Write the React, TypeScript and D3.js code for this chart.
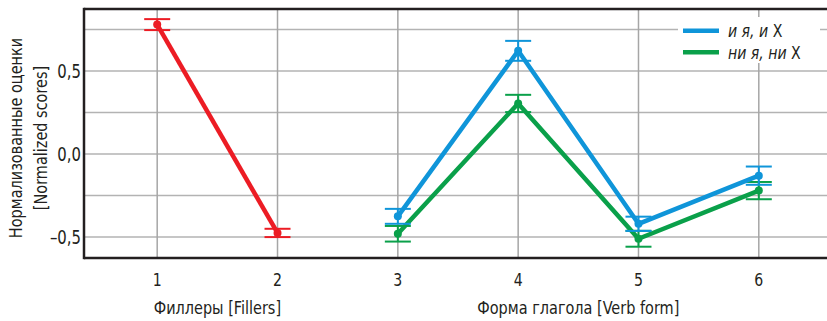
import { useEffect, useRef } from 'react'
import * as d3 from 'd3'

const fillerX = [1, 2]
const fillerMean = [0.78, -0.475]
const fillerErr = [0.033, 0.025]

const verbX = [3, 4, 5, 6]
const andMean = [-0.375, 0.622, -0.42, -0.13]
const andErr = [0.045, 0.06, 0.043, 0.055]
const norMean = [-0.48, 0.305, -0.51, -0.22]
const norErr = [0.047, 0.052, 0.048, 0.052]

const xTicks = [1, 2, 3, 4, 5, 6]
const yMajor = [-0.5, 0, 0.5]
const yMinor = [-0.25, 0.25, 0.75]

const RED = '#ec1c24'
const BLUE = '#0f95d9'
const GREEN = '#0aa04a'
const INK = '#231f20'
// narrow font is not installed, so condensed DejaVu gets squeezed a bit more
const FONT = '"DejaVu Sans Condensed", "DejaVu Sans", sans-serif'
const SQUEEZE = 0.87

const App = () => {
  const svgRef = useRef(null)

  useEffect(() => {
    const svg = d3.select(svgRef.current)
    svg.selectAll('*').remove()

    const width = 827
    const height = 321
    const left = 84
    const top = 9
    const bottom = 258

    const x = d3.scaleLinear().domain([0.4, 6.6]).range([85, 831])
    const y = d3.scaleLinear().domain([-0.626, 0.874]).range([bottom, top])

    svg.attr('width', width).attr('height', height)
    const g = svg.append('g')

    const label = (px, py, txt, size, anchor, rotate = 0) => {
      const t = g.append('g')
        .attr('transform', `translate(${px},${py}) rotate(${rotate}) scale(${SQUEEZE},1)`)
        .append('text')
        .attr('dy', '0.35em')
        .attr('text-anchor', anchor)
        .attr('font-family', FONT)
        .attr('font-size', size)
        .attr('fill', INK)
      if (txt) t.text(txt)
      return t
    }

    // grid
    g.selectAll('line.hgrid')
      .data(yMajor.concat(yMinor))
      .enter()
      .append('line')
      .attr('x1', left)
      .attr('x2', width)
      .attr('y1', (d) => y(d))
      .attr('y2', (d) => y(d))
      .attr('stroke', '#b3b3b3')
      .attr('stroke-width', 1.5)

    g.selectAll('line.vgrid')
      .data(xTicks)
      .enter()
      .append('line')
      .attr('x1', (d) => x(d))
      .attr('x2', (d) => x(d))
      .attr('y1', top)
      .attr('y2', bottom)
      .attr('stroke', '#a6a6a6')
      .attr('stroke-width', 1.5)

    // frame: top, left, bottom
    g.append('line').attr('x1', left).attr('x2', width).attr('y1', top).attr('y2', top)
      .attr('stroke', INK).attr('stroke-width', 2.5)
    g.append('line').attr('x1', left).attr('x2', left).attr('y1', top - 1.2).attr('y2', bottom + 1.2)
      .attr('stroke', INK).attr('stroke-width', 2.5)
    g.append('line').attr('x1', left).attr('x2', width).attr('y1', bottom).attr('y2', bottom)
      .attr('stroke', INK).attr('stroke-width', 2.5)

    // tick labels
    yMajor.forEach((d) => {
      const txt = (d < 0 ? '\u2013' : '') + d3.format('.1f')(Math.abs(d)).replace('.', ',')
      label(left - 3, y(d), txt, 19, 'end')
    })
    xTicks.forEach((d) => label(x(d), 280, String(d), 18, 'middle'))

    // axis titles
    label(x(1.5), 308, 'Филлеры [Fillers]', 18.5, 'middle')
    label(x(4.5), 308, 'Форма глагола [Verb form]', 18.5, 'middle')

    const yt = label(16, 138, null, 18.5, 'middle', -90).attr('dy', null)
    yt.append('tspan').attr('x', 0).attr('dy', '0.35em').text('Нормализованные оценки')
    yt.append('tspan').attr('x', 0).attr('dy', '1.3em').text('[Normalized scores]')

    // legend background
    g.append('rect').attr('x', 678).attr('y', 17).attr('width', 142).attr('height', 46).attr('fill', 'white')

    const line = d3.line().x((d) => x(d[0])).y((d) => y(d[1]))

    const series = [
      { xs: fillerX, m: fillerMean, e: fillerErr, c: RED },
      { xs: verbX, m: norMean, e: norErr, c: GREEN },
      { xs: verbX, m: andMean, e: andErr, c: BLUE },
    ]

    series.forEach((s) => {
      const pts = s.xs.map((xv, i) => [xv, s.m[i]])
      const sg = g.append('g')
      sg.append('path')
        .attr('d', line(pts))
        .attr('fill', 'none')
        .attr('stroke', s.c)
        .attr('stroke-width', 4.5)
        .attr('stroke-linejoin', 'round')
      s.xs.forEach((xv, i) => {
        const lo = y(s.m[i] - s.e[i])
        const hi = y(s.m[i] + s.e[i])
        sg.append('line').attr('x1', x(xv)).attr('x2', x(xv)).attr('y1', lo).attr('y2', hi)
          .attr('stroke', s.c).attr('stroke-width', 2)
        ;[lo, hi].forEach((yy) => {
          sg.append('line').attr('x1', x(xv) - 13).attr('x2', x(xv) + 13).attr('y1', yy).attr('y2', yy)
            .attr('stroke', s.c).attr('stroke-width', 2)
        })
        sg.append('circle').attr('cx', x(xv)).attr('cy', y(s.m[i])).attr('r', 4).attr('fill', s.c)
      })
    })

    // legend
    const legend = [
      { label: 'и я, и', c: BLUE },
      { label: 'ни я, ни', c: GREEN },
    ]
    legend.forEach((l, i) => {
      const ly = 30.7 + i * 21.6
      g.append('line').attr('x1', 683).attr('x2', 719).attr('y1', ly).attr('y2', ly)
        .attr('stroke', l.c).attr('stroke-width', 4.5)
      const t = label(728, ly, null, 18, 'start')
      t.append('tspan').attr('font-style', 'italic').text(l.label + ' ')
      t.append('tspan').text('X')
    })
  }, [])

  return (
    <div style={{ position: 'absolute', left: 0, top: 0 }}>
      <svg ref={svgRef} style={{ display: 'block' }}></svg>
    </div>
  )
}

export default App
